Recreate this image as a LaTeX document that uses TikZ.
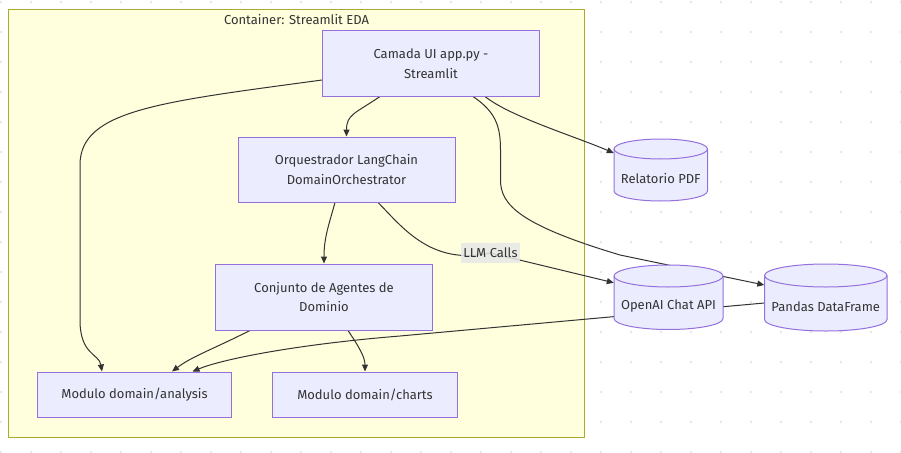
\documentclass[tikz,border=0pt]{standalone}
\usepackage{fontspec}
\setmainfont{Fira Sans}
\usetikzlibrary{arrows.meta,calc}
\definecolor{boxfill}{HTML}{ECECFF}
\definecolor{boxline}{HTML}{9370DB}
\definecolor{contfill}{HTML}{FFFFDE}
\definecolor{contline}{HTML}{AAAA33}
\definecolor{txt}{HTML}{333333}
\definecolor{edgecol}{HTML}{333333}
\definecolor{dotcol}{HTML}{E6E6E6}
\definecolor{lblfill}{HTML}{E8E8E8}
\pgfdeclarelayer{bg}
\pgfdeclarelayer{edgelayer}
\pgfsetlayers{bg,edgelayer,main}
\newcommand\dbcyl[7]{% name, cx, cy, w, h, ry, text
  \path[cylstyle] ({#2-#4/2},{#3+#5/2-#6}) -- ({#2-#4/2},{#3-#5/2+#6})
     arc[start angle=180,end angle=360,x radius={#4pt/2},y radius=#6pt]
     -- ({#2+#4/2},{#3+#5/2-#6})
     arc[start angle=0,end angle=180,x radius={#4pt/2},y radius=#6pt] -- cycle;
  \draw[cylline] ({#2-#4/2},{#3+#5/2-#6})
     arc[start angle=180,end angle=360,x radius={#4pt/2},y radius=#6pt];
  \node[cylnode, minimum width=#4pt, minimum height=#5pt,
        label={[celltext, yshift=-9pt]center:#7}] (#1) at (#2,#3) {};
}
\tikzset{
  basefont/.style={font=\fontsize{13}{19.5}\selectfont, text=txt},
  box/.style={basefont, draw=boxline, fill=boxfill, line width=1pt, align=center, inner sep=0pt},
  cylstyle/.style={draw=boxline, fill=boxfill, line width=1pt},
  cylline/.style={draw=boxline, line width=1pt},
  cylnode/.style={draw=none, fill=none, inner sep=0pt},
  celltext/.style={basefont, inner sep=0pt},
  container/.style={draw=contline, fill=contfill, line width=1pt, inner sep=0pt},
  conn/.style={draw=edgecol, line width=1pt, -{Triangle[length=7pt,width=6pt]}},
  edgelabel/.style={basefont, fill=lblfill, fill opacity=0.85, text opacity=1, inner sep=2pt, minimum height=20pt, minimum width=55pt},
}
\begin{document}
\begin{tikzpicture}[x=1pt,y=1pt]
\useasboundingbox (0,0) rectangle (901,-452);
\begin{pgfonlayer}{bg}
  \fill[white] (0,0) rectangle (901,-452);
  \foreach \i in {0,...,30} {\foreach \j in {0,...,15} {\fill[dotcol] ({1+30*\i},{-2-30*\j}) circle (1.4pt);}}
  \node[container, minimum width=576pt, minimum height=427pt] (cont) at (296,-223.5) {};
  \node[basefont, inner sep=0pt] (conttitle) at (296.5,-19.5) {Container: Streamlit EDA};
\end{pgfonlayer}

\node[box, minimum width=217pt, minimum height=65pt] (ui) at (431,-63.5) {Camada UI app.py -\\Streamlit};
\node[box, minimum width=217pt, minimum height=65pt] (orq) at (346.5,-169.5) {Orquestrador LangChain\\DomainOrchestrator};
\node[box, minimum width=217pt, minimum height=66pt] (conj) at (324,-297) {Conjunto de Agentes de\\Dominio};
\node[box, minimum width=194pt, minimum height=45pt] (ana) at (134.5,-394.5) {Modulo domain/analysis};
\node[box, minimum width=185pt, minimum height=45pt] (charts) at (365,-394.5) {Modulo domain/charts};

\dbcyl{pdf}{660.75}{-170}{93.5}{62}{10}{Relatorio PDF}
\dbcyl{openai}{668.5}{-297.25}{109}{64.5}{11}{OpenAI Chat API}
\dbcyl{pandas}{825.75}{-297.5}{122.5}{67}{11.5}{Pandas DataFrame}

\node[edgelabel] (llm) at (490.5,-253) {LLM Calls};

\begin{pgfonlayer}{edgelayer}
  % UI -> Orquestrador
  \draw[conn] ($(ui.south)+(-51,0)$) .. controls +(-25,-17) and +(0,22) .. (orq.north);
  % UI -> analysis
  \coordinate (b2a) at (80,-165);
  \coordinate (b2b) at (80,-320);
  \draw[conn] ($(ui.west)+(0,-16.5)$) .. controls (160,-102) and (80,-110) .. (b2a) -- (b2b)
     .. controls +(0,-35) and +(-3,18) .. ($(ana.north)+(-32.5,0)$);
  % UI -> PDF
  \draw[conn] ($(ui.south)+(54,0)$) .. controls +(25,-20) and +(-40,17) .. ($(pdf.west)+(0,17)$);
  % UI -> Pandas
  \coordinate (b4a) at (500.5,-150);
  \coordinate (b4b) at (500.5,-180);
  \coordinate (b4c) at (620,-255);
  \draw[conn] ($(ui.south)+(42,0)$) .. controls +(22,-15) and +(0,25) .. (b4a) -- (b4b)
     .. controls +(0,-25) and +(-100,30) .. (b4c) -- ($(pandas.west)+(0,12.5)$);
  % Orquestrador -> Conjunto
  \draw[conn] ($(orq.south)+(-11.5,0)$) .. controls +(-7,-25) and +(0,25) .. (conj.north);
  % Orquestrador -> OpenAI (LLM Calls)
  \draw[conn] ($(orq.south)+(31.5,0)$) .. controls +(24,-24) and +(-60,-13) .. (llm.center) -- ($(openai.west)+(0,14.5)$);
  % Conjunto -> analysis
  \draw[conn] ($(conj.south)+(-74,0)$) .. controls +(-40,-20) and +(20,15) .. ($(ana.north)+(37.5,0)$);
  % Conjunto -> charts
  \draw[conn] ($(conj.south)+(24,0)$) .. controls +(10,-15) and +(0,15) .. (charts.north);
  % Pandas -> analysis
  \coordinate (b9a) at (400,-336);
  \draw[conn] ($(pandas.west)+(0,-5.5)$) -- (b9a) .. controls (290,-345) and (220,-360) .. ($(ana.north)+(58,0)$);
\end{pgfonlayer}
\end{tikzpicture}
\end{document}
